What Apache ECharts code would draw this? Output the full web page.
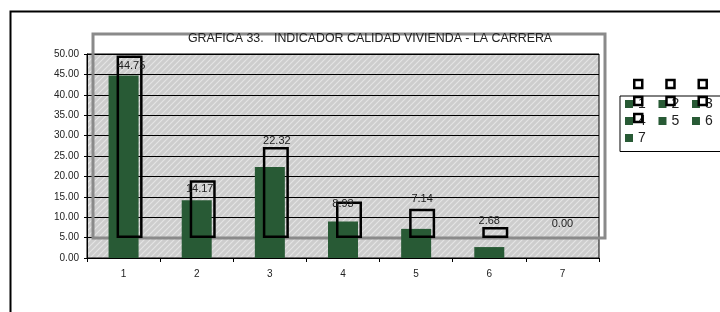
<!DOCTYPE html>
<html>
<head>
<meta charset="utf-8">
<script src="https://cdn.jsdelivr.net/npm/echarts@6/dist/echarts.min.js"></script>
<style>
html,body{margin:0;padding:0;background:#fff;}
#chart{width:720px;height:312px;}
</style>
</head>
<body>
<div id="chart"></div>
<script>
const categories = ['1', '2', '3', '4', '5', '6', '7'];
const values = [44.75, 14.17, 22.32, 8.93, 7.14, 2.68, 0.00];
const yMin = 0, yMax = 50, yStep = 5;
const titleText = 'GRAFICA 33.   INDICADOR CALIDAD VIVIENDA - LA CARRERA';

// label nudges (styling only), relative to the top of each outlined box
const labelNudges = [[2, 10.6], [-3, 8.3], [1, -5.9], [-6, 2.9], [0, -9.9], [-6, -6.1], [-6, -14.5]];

const FONT = 'Liberation Sans, Arial, sans-serif';
const GREEN = '#285a35';

function hatch() {
  const c = document.createElement('canvas');
  c.width = 6; c.height = 6;
  const g = c.getContext('2d');
  g.fillStyle = '#cdcdcd';
  g.fillRect(0, 0, 6, 6);
  g.strokeStyle = '#e4e4e4';
  g.lineWidth = 1.1;
  g.beginPath();
  g.moveTo(-1, 7); g.lineTo(7, -1);
  g.moveTo(-4, 4); g.lineTo(4, -4);
  g.moveTo(2, 10); g.lineTo(10, 2);
  g.stroke();
  return c;
}

const chart = echarts.init(document.getElementById('chart'), null, {renderer: 'canvas'});

const legendSeries = categories.map(c => ({
  type: 'line', name: c, data: [], xAxisIndex: 0, yAxisIndex: 0, color: GREEN, silent: true
}));

// legend rows of three entries each
const legendRows = [];
for (let i = 0; i < categories.length; i += 3) legendRows.push(categories.slice(i, i + 3));

const legendText = {fontFamily: FONT, fontSize: 14, color: '#222'};
const legends = [];
legendRows.forEach((row, r) => {
  legends.push({
    data: row, icon: 'rect', itemWidth: 8, itemHeight: 8, itemGap: 12.7,
    left: 625, top: 97 + 17 * r, width: 150, orient: 'horizontal', selectedMode: false,
    padding: 0, itemStyle: {color: GREEN}, textStyle: legendText
  });
  legends.push({
    data: row, icon: 'rect', itemWidth: 8, itemHeight: 8, itemGap: 14.1,
    left: 633, top: 77 + 17 * r, width: 150, orient: 'horizontal', selectedMode: false,
    padding: 0, z: 6, formatter: () => ' ',
    itemStyle: {color: 'rgba(0,0,0,0)', borderColor: '#000', borderWidth: 2.5},
    textStyle: legendText
  });
});

const option = {
  animation: false,
  backgroundColor: '#fff',
  title: {
    text: titleText,
    left: 365, top: 28, textAlign: 'center', z: 10,
    textStyle: {fontFamily: FONT, fontSize: 12.4, fontWeight: 'normal', color: '#222'}
  },
  grid: [
    {left: 87, top: 54, width: 512, height: 204, show: true, z: 0,
     backgroundColor: {image: hatch(), repeat: 'repeat'}, borderColor: '#000', borderWidth: 1},
    {left: 93, top: 34, width: 512, height: 204, show: true, z: 1,
     backgroundColor: 'transparent', borderColor: '#8a8a8a', borderWidth: 3}
  ],
  xAxis: [
    {type: 'category', gridIndex: 0, data: categories,
     axisLine: {lineStyle: {color: '#000', width: 1}},
     axisTick: {show: true, length: 4, lineStyle: {color: '#000'}},
     axisLabel: {fontFamily: FONT, fontSize: 10, color: '#222', margin: 11}},
    {type: 'category', gridIndex: 1, data: categories, show: false}
  ],
  yAxis: [
    {type: 'value', gridIndex: 0, min: yMin, max: yMax, interval: yStep,
     axisLine: {show: true, lineStyle: {color: '#000', width: 1}},
     axisTick: {show: true, inside: false, length: 3, lineStyle: {color: '#000'}},
     splitLine: {show: true, lineStyle: {color: '#000', width: 1}},
     axisLabel: {fontFamily: FONT, fontSize: 10, color: '#222', margin: 8,
                 formatter: v => v.toFixed(2)}},
    {type: 'value', gridIndex: 1, min: yMin, max: yMax, interval: yStep, show: false,
     splitLine: {show: false}}
  ],
  legend: legends,
  graphic: [
    {type: 'rect', left: 8, top: 9, z: 100, silent: true,
     shape: {x: 0, y: 0, width: 800, height: 400},
     style: {fill: 'none', stroke: '#000', lineWidth: 2}},
    {type: 'rect', left: 619.5, top: 95.5, z: 2, silent: true,
     shape: {x: 0, y: 0, width: 200, height: 55.5},
     style: {fill: '#fff', stroke: '#000', lineWidth: 1}}
  ],
  series: [
    {type: 'bar', name: 'valores', xAxisIndex: 0, yAxisIndex: 0, barWidth: 30, z: 2,
     data: values, itemStyle: {color: GREEN}},
    {type: 'bar', name: 'marcos', xAxisIndex: 1, yAxisIndex: 1, barWidth: 26, z: 3,
     data: values.map((v, i) => ({
       value: v,
       itemStyle: v === 0 ? {borderWidth: 0} : {},
       label: {offset: labelNudges[i]}
     })),
     itemStyle: {color: 'rgba(0,0,0,0)', borderColor: '#000', borderWidth: 2.5},
     label: {show: true, position: 'top', distance: 0, verticalAlign: 'middle',
             fontFamily: FONT, fontSize: 11, color: '#222',
             formatter: p => p.value.toFixed(2)}}
  ].concat(legendSeries)
};

chart.setOption(option);
</script>
</body>
</html>
